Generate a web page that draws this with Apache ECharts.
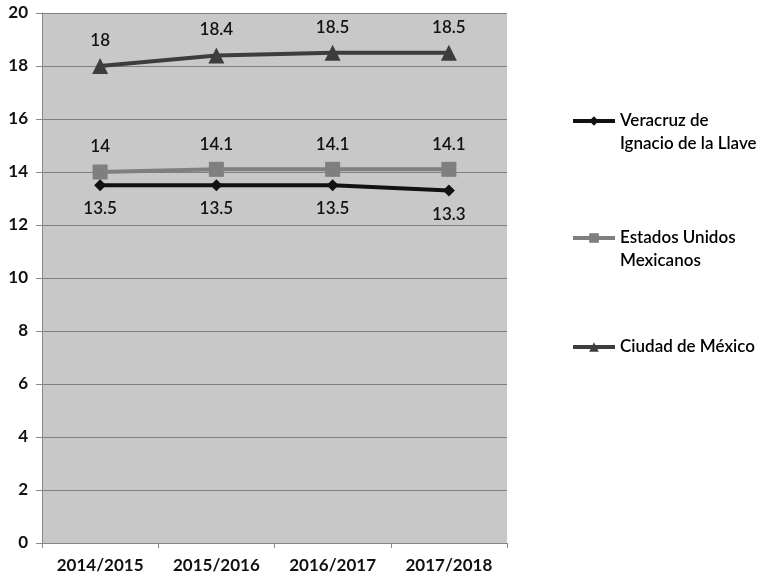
<!DOCTYPE html>
<html><head><meta charset="utf-8">
<script src="https://cdn.jsdelivr.net/npm/echarts@6/dist/echarts.min.js"></script>
<style>html,body{margin:0;padding:0;background:#fff}#c{width:761px;height:579px}</style>
</head><body><div id="c"></div>
<script>
var categories = ['2014/2015', '2015/2016', '2016/2017', '2017/2018'];
var veracruz = [13.5, 13.5, 13.5, 13.3];
var estados = [14, 14.1, 14.1, 14.1];
var ciudad = [18, 18.4, 18.5, 18.5];
var yTicks = [0, 2, 4, 6, 8, 10, 12, 14, 16, 18, 20];
var names = ['Veracruz de\nIgnacio de la Llave', 'Estados Unidos\nMexicanos', 'Ciudad de México'];
var FONT = 'Lato';

var chart = echarts.init(document.getElementById('c'));
function legendAt(name, top) {
  return {
    data: [name], left: 566, top: top, orient: 'vertical',
    itemWidth: 42, itemHeight: 12, selectedMode: false,
    lineStyle: { width: 4 },
    formatter: function (n) { return n.indexOf('\n') >= 0 ? '\n' + n : n; },
    textStyle: { fontFamily: FONT, fontSize: 17, fontWeight: 600, color: '#000', lineHeight: 23 }
  };
}
chart.setOption({
  animation: false,
  backgroundColor: '#fff',
  grid: { left: 42, right: 254, top: 13, bottom: 36, show: true, backgroundColor: '#c8c8c8', borderWidth: 0 },
  legend: [legendAt(names[0], 81.5), legendAt(names[1], 198.5), legendAt(names[2], 330.5)],
  xAxis: {
    type: 'category', data: categories, boundaryGap: true,
    axisLine: { lineStyle: { color: '#888', width: 1 } },
    axisTick: { show: true, length: 5, lineStyle: { color: '#888' } },
    axisLabel: { fontFamily: FONT, fontSize: 17, fontWeight: 'bold', color: '#111', margin: 14 }
  },
  yAxis: {
    type: 'value', min: yTicks[0], max: yTicks[yTicks.length - 1], interval: 2,
    axisLine: { show: true, lineStyle: { color: '#888' } },
    axisTick: { show: true, length: 6, lineStyle: { color: '#888' } },
    axisLabel: { fontFamily: FONT, fontSize: 17, fontWeight: 'bold', color: '#111', margin: 14 },
    splitLine: { lineStyle: { color: '#808080', width: 1 } }
  },
  series: [
    {
      name: names[0], type: 'line', data: veracruz,
      symbol: 'diamond', symbolSize: 12,
      lineStyle: { color: '#111', width: 4 }, itemStyle: { color: '#111' },
      label: { show: true, position: 'bottom', distance: 9, fontFamily: FONT, fontSize: 17, fontWeight: 600, color: '#111' },
      z: 3
    },
    {
      name: names[1], type: 'line', data: estados,
      symbol: 'rect', symbolSize: 15,
      lineStyle: { color: '#7f7f7f', width: 4 }, itemStyle: { color: '#7f7f7f' },
      label: { show: true, position: 'top', distance: 9, fontFamily: FONT, fontSize: 17, fontWeight: 600, color: '#111' },
      z: 2
    },
    {
      name: names[2], type: 'line', data: ciudad,
      symbol: 'triangle', symbolSize: 16,
      lineStyle: { color: '#3d3d3d', width: 4 }, itemStyle: { color: '#3d3d3d' },
      label: { show: true, position: 'top', distance: 9, fontFamily: FONT, fontSize: 17, fontWeight: 600, color: '#111' },
      z: 2
    }
  ]
});
</script></body></html>
